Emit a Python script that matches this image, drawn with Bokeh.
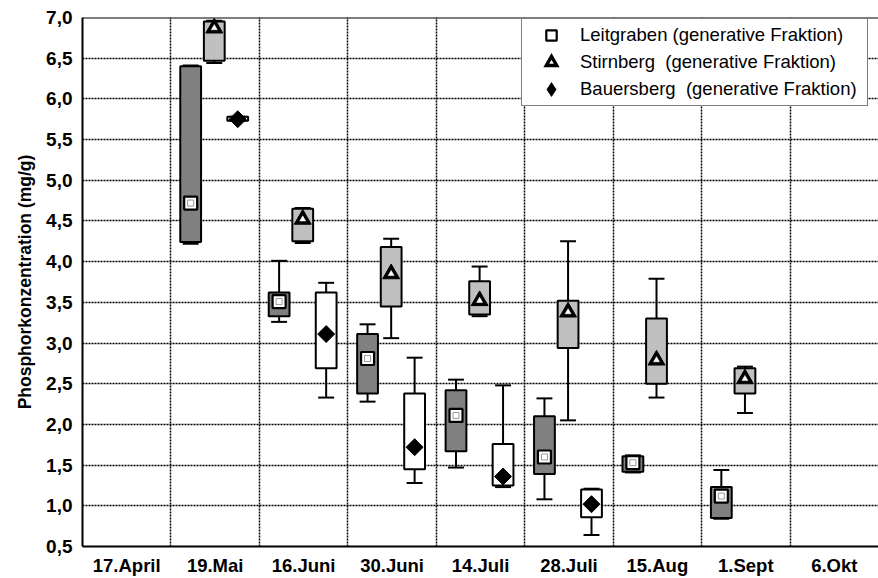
import numpy as np
from bokeh.plotting import figure
from bokeh.models import FixedTicker, Span, Legend, LegendItem, Range1d
from bokeh.embed import file_html
from bokeh.resources import INLINE

# ---------------- data ----------------
categories = ["17.April", "19.Mai", "16.Juni", "30.Juni", "14.Juli",
              "28.Juli", "15.Aug", "1.Sept", "6.Okt"]

y_ticks = [0.5, 1.0, 1.5, 2.0, 2.5, 3.0, 3.5, 4.0, 4.5, 5.0, 5.5, 6.0, 6.5, 7.0]
y_tick_labels = ["0,5", "1,0", "1,5", "2,0", "2,5", "3,0", "3,5", "4,0",
                 "4,5", "5,0", "5,5", "6,0", "6,5", "7,0"]

# Leitgraben (generative Fraktion)
leit_dates = ["19.Mai", "16.Juni", "30.Juni", "14.Juli", "28.Juli", "15.Aug", "1.Sept"]
leit_wlow  = [4.22, 3.26, 2.28, 1.47, 1.08, 1.41, 0.84]
leit_q1    = [4.24, 3.33, 2.38, 1.67, 1.39, 1.42, 0.85]
leit_q3    = [6.40, 3.62, 3.11, 2.42, 2.10, 1.61, 1.23]
leit_whigh = [6.41, 4.01, 3.23, 2.55, 2.32, 1.62, 1.44]
leit_mid   = [4.72, 3.51, 2.81, 2.11, 1.60, 1.53, 1.12]

# Stirnberg (generative Fraktion)
stirn_dates = ["19.Mai", "16.Juni", "30.Juni", "14.Juli", "28.Juli", "15.Aug", "1.Sept"]
stirn_wlow  = [6.44, 4.23, 3.06, 3.33, 2.05, 2.33, 2.14]
stirn_q1    = [6.47, 4.25, 3.45, 3.35, 2.94, 2.50, 2.38]
stirn_q3    = [6.95, 4.65, 4.18, 3.76, 3.52, 3.30, 2.69]
stirn_whigh = [6.96, 4.66, 4.28, 3.94, 4.25, 3.79, 2.71]
stirn_mid   = [6.87, 4.52, 3.85, 3.52, 3.38, 2.79, 2.56]

# Bauersberg (generative Fraktion)
bauer_dates = ["19.Mai", "16.Juni", "30.Juni", "14.Juli", "28.Juli"]
bauer_wlow  = [5.73, 2.33, 1.28, 1.23, 0.64]
bauer_q1    = [5.73, 2.69, 1.45, 1.25, 0.86]
bauer_q3    = [5.78, 3.62, 2.38, 1.76, 1.20]
bauer_whigh = [5.78, 3.74, 2.82, 2.48, 1.21]
bauer_mid   = [5.75, 3.11, 1.72, 1.36, 1.02]

# ---------------- figure ----------------
FONT = "Liberation Sans"
p = figure(width=878, height=578, output_backend="svg", toolbar_location=None,
           x_range=Range1d(0, 9.0), y_range=Range1d(0.5, 7.0),
           min_border_left=82, min_border_right=0, min_border_top=17,
           min_border_bottom=28)
p.outline_line_color = None
p.background_fill_color = "white"
p.border_fill_color = "white"

# axes
p.xaxis.ticker = FixedTicker(ticks=[i + 0.5 for i in range(len(categories))])
p.xaxis.major_label_overrides = {i + 0.5: c for i, c in enumerate(categories)}
p.yaxis.ticker = FixedTicker(ticks=y_ticks)
p.yaxis.major_label_overrides = {t: l for t, l in zip(y_ticks, y_tick_labels)}
for ax in (p.xaxis[0], p.yaxis[0]):
    ax.axis_line_color = "black"
    ax.axis_line_width = 2
    ax.major_tick_out = 0
    ax.major_tick_in = 0
    ax.minor_tick_line_color = None
    ax.major_label_text_font = FONT
    ax.major_label_text_font_style = "bold"
    ax.major_label_text_color = "black"
p.xaxis.major_label_text_font_size = "18.5px"
p.xaxis.major_label_standoff = 8
p.yaxis.major_label_text_font_size = "19px"
p.yaxis.major_label_standoff = 10
p.yaxis.axis_label = "Phosphorkonzentration (mg/g)"
p.yaxis.axis_label_text_font = FONT
p.yaxis.axis_label_text_font_style = "bold"
p.yaxis.axis_label_text_font_size = "17.5px"
p.yaxis.axis_label_text_color = "black"
p.yaxis.axis_label_standoff = 8

# grid
p.xgrid.ticker = FixedTicker(ticks=list(range(1, len(categories))))
for g in (p.xgrid[0], p.ygrid[0]):
    g.grid_line_color = "black"
    g.grid_line_width = 1.5
    g.grid_line_dash = "2 1"
    g.grid_line_alpha = 1.0

p.add_layout(Span(location=7.0, dimension="width", line_color="black", line_width=2))

BOX_W = 0.235
CAP = 0.09

x_leit = np.array([categories.index(d) + 0.5 - 0.277 for d in leit_dates])
x_stirn = np.array([categories.index(d) + 0.5 - 0.01 for d in stirn_dates])
x_bauer = np.array([categories.index(d) + 0.5 + 0.255 for d in bauer_dates])

# legend key renderers (hidden behind the boxes)
r_st_leg = p.scatter(x_stirn, stirn_mid, marker="triangle", size=2, fill_color="white",
                     line_color="black", line_width=3.4, line_join="miter")
r_ba_leg = p.scatter(x_bauer, bauer_mid, marker="diamond", size=2, fill_color="black",
                     line_color="black", line_width=2.5, line_join="miter")


def draw(x, wl, q1, q3, wh, fill):
    wl, q1, q3, wh = map(np.array, (wl, q1, q3, wh))
    kw = dict(line_color="black", line_width=2)
    p.segment(x, wl, x, q1, **kw)
    p.segment(x, q3, x, wh, **kw)
    p.segment(x - CAP, wl, x + CAP, wl, **kw)
    p.segment(x - CAP, wh, x + CAP, wh, **kw)
    p.vbar(x=x, width=BOX_W, bottom=q1, top=q3, fill_color=fill,
           line_color="black", line_width=2)


draw(x_leit, leit_wlow, leit_q1, leit_q3, leit_whigh, "#808080")
draw(x_stirn, stirn_wlow, stirn_q1, stirn_q3, stirn_whigh, "#c0c0c0")
draw(x_bauer, bauer_wlow, bauer_q1, bauer_q3, bauer_whigh, "white")

r_leit = p.scatter(x_leit, leit_mid, marker="square", size=13, fill_color="white",
                   line_color="black", line_width=2.2)
p.scatter(x_leit, leit_mid, marker="square", size=6, fill_color=None,
          line_color="#9a9a9a", line_width=1)
p.scatter(x_stirn, stirn_mid, marker="triangle", size=17, fill_color="black",
          line_color="black", line_width=1)
p.scatter(x_stirn, stirn_mid, marker="triangle", size=6, fill_color="white",
          line_color="white", line_width=0.5)
p.scatter(x_bauer, bauer_mid, marker="square", size=12, angle=np.pi / 4,
          fill_color="black", line_color="black", line_width=1)

legend = Legend(items=[
    LegendItem(label="Leitgraben (generative Fraktion)", renderers=[r_leit]),
    LegendItem(label="Stirnberg  (generative Fraktion)", renderers=[r_st_leg]),
    LegendItem(label="Bauersberg  (generative Fraktion)", renderers=[r_ba_leg]),
], location=(439, 440))
legend.label_text_font = FONT
legend.label_text_font_size = "18.5px"
legend.label_text_color = "black"
legend.border_line_color = "black"
legend.border_line_width = 1.5
legend.background_fill_color = "white"
legend.background_fill_alpha = 1.0
legend.padding = 3
legend.spacing = 1
legend.glyph_width = 52
legend.glyph_height = 26
legend.label_height = 26
legend.label_width = 284
legend.label_standoff = 3
legend.margin = 0
p.add_layout(legend, "center")

open("out.html", "w").write(file_html(p, INLINE))
